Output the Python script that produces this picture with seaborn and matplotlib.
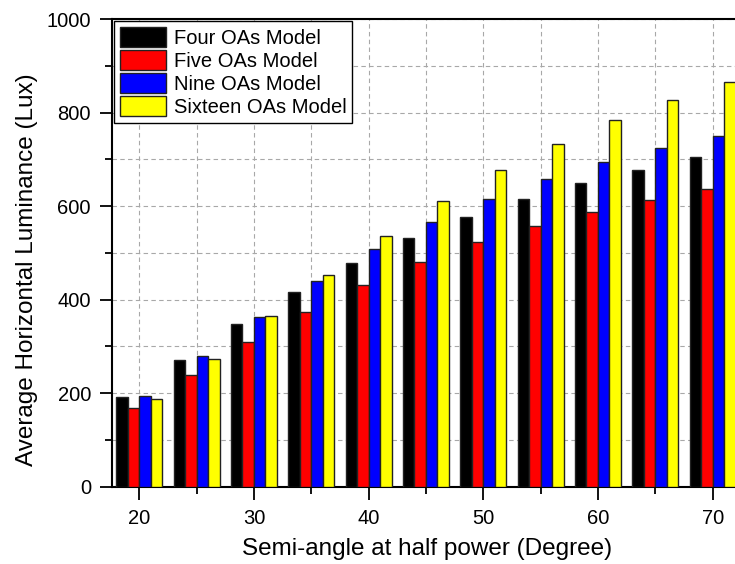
import matplotlib
matplotlib.use("Agg")
import matplotlib.pyplot as plt
from matplotlib.patches import Patch
from matplotlib.ticker import MultipleLocator
import numpy as np
import pandas as pd
import seaborn as sns

# Semi-angle at half power (degrees)
angles = [20, 25, 30, 35, 40, 45, 50, 55, 60, 65, 70]

# Average horizontal luminance (lux) for each optical-attocell layout
four_oas = [192, 271, 347, 416, 478, 531, 577, 616, 650, 678, 705]
five_oas = [168, 239, 309, 374, 431, 480, 522, 557, 587, 613, 636]
nine_oas = [194, 280, 363, 440, 508, 566, 616, 657, 694, 724, 750]
sixteen_oas = [188, 273, 365, 452, 536, 610, 676, 733, 783, 826, 865]

models = ["Four OAs Model", "Five OAs Model", "Nine OAs Model", "Sixteen OAs Model"]
colors = ["#000000", "#ff0000", "#0000ff", "#ffff00"]

df = pd.DataFrame({
    "angle": angles * 4,
    "lux": four_oas + five_oas + nine_oas + sixteen_oas,
    "model": [m for m in models for _ in angles],
})

sns.set_style("ticks")
plt.rcParams["font.family"] = ["Liberation Sans", "DejaVu Sans"]
plt.rcParams.update({
    "text.color": "black", "axes.labelcolor": "black",
    "xtick.color": "black", "ytick.color": "black",
    "xtick.labelcolor": "black", "ytick.labelcolor": "black",
})

fig = plt.figure(figsize=(7.35, 5.64), dpi=100)
# axes run past the right edge of the canvas
ax = fig.add_axes([0.152, 0.1374, 0.880, 0.8289])

sns.barplot(
    data=df, x="angle", y="lux", hue="model", hue_order=models,
    palette=colors, saturation=1, native_scale=True, width=0.8,
    edgecolor="#222222", linewidth=1.0, legend=False, ax=ax, zorder=3,
)

ax.set_xlim(17.6, 74.0)
ax.set_ylim(0, 1000)

ax.xaxis.set_major_locator(MultipleLocator(10))
ax.xaxis.set_minor_locator(MultipleLocator(5))
ax.yaxis.set_major_locator(MultipleLocator(200))
ax.yaxis.set_minor_locator(MultipleLocator(100))

ax.tick_params(axis="both", which="major", direction="out", length=9, width=1.3,
               labelsize=14.5, pad=6, color="black", labelcolor="black")
ax.tick_params(axis="both", which="minor", direction="out", length=5, width=1.3,
               color="black")
ax.tick_params(axis="x", which="major", pad=7)

ax.set_axisbelow(True)
ax.grid(which="both", axis="both", color="#a8a8a8", linestyle=(0, (4, 3)),
        linewidth=0.8, zorder=0)

for side in ["left", "bottom", "top"]:
    ax.spines[side].set_visible(True)
    ax.spines[side].set_color("black")
    ax.spines[side].set_linewidth(1.5)
ax.spines["right"].set_visible(False)

ax.set_xlabel("Semi-angle at half power (Degree)", fontsize=17.5, color="black")
ax.set_ylabel("Average Horizontal Luminance (Lux)", fontsize=17.5, color="black")
ax.xaxis.set_label_coords(0.487, -0.110)
ax.yaxis.set_label_coords(-0.114, 0.464)

handles = [Patch(facecolor=c, edgecolor="#222222", linewidth=1.0) for c in colors]
leg = ax.legend(
    handles, models, loc="upper left", fontsize=14.5, frameon=True,
    fancybox=False, framealpha=1, edgecolor="black", borderaxespad=0.12,
    handlelength=2.3, handleheight=1.15, handletextpad=0.35, labelspacing=0.1,
    borderpad=0.3,
)
leg.get_frame().set_linewidth(1.0)
for t in leg.get_texts():
    t.set_color("black")

fig.savefig("out.png", dpi=100, facecolor="white")
